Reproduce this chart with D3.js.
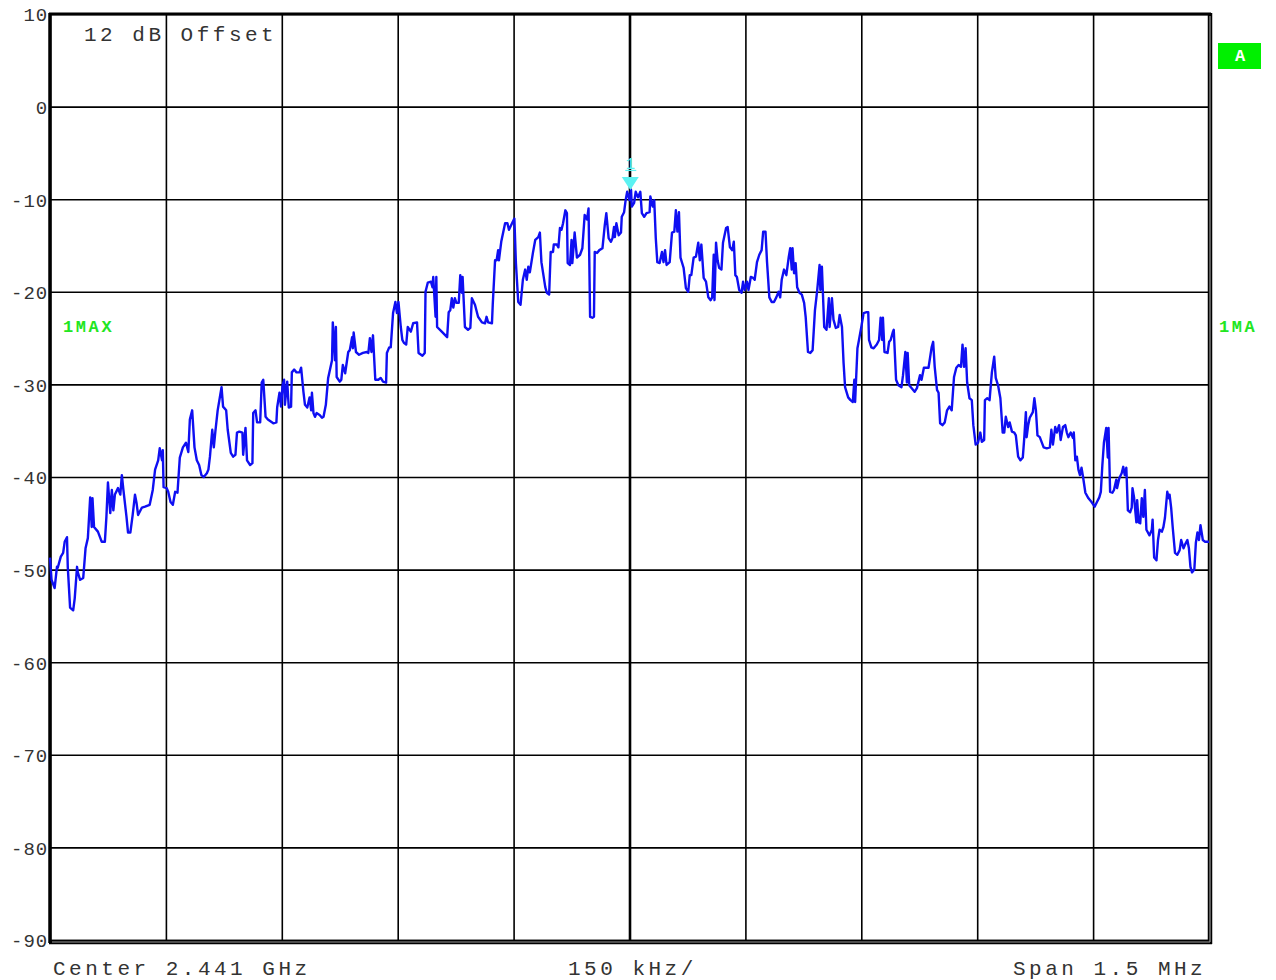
<!DOCTYPE html>
<html>
<head>
<meta charset="utf-8">
<title>Spectrum 2.441 GHz</title>
<script src="https://d3js.org/d3.v7.min.js"></script>
<style>
  body { margin: 0; background: #fff; }
  svg text { font-family: "Courier New", "Liberation Mono", monospace; }
</style>
</head>
<body>
<div id="chart"></div>
<script>
// frequency offset from center (kHz) and level (dB) of the max-hold trace
const freqKHz = [
  -750,-748,-744,-741,-740,-736,-733,-731,-728,-727,-724,-720,-718,-715,-714,-711,-707,-704,-701,-698,
  -696,-695,-693,-688,-683,-679,-677,-675,-672,-670,-668,-666,-662,-659,-657,-655,-651,-649,-646,-643,
  -640,-638,-636,-631,-627,-621,-617,-614,-610,-608,-605,-604,-603,-599,-597,-594,-591,-588,-585,-582,
  -578,-574,-571,-569,-566,-563,-560,-557,-554,-551,-547,-545,-543,-540,-538,-536,-533,-528,-526,-522,
  -520,-516,-513,-510,-508,-505,-501,-500,-497,-495,-491,-488,-487,-484,-482,-478,-476,-474,-471,-468,
  -461,-457,-456,-453,-451,-449,-447,-446,-443,-441,-438,-437,-434,-431,-427,-425,-422,-420,-417,-414,
  -412,-411,-409,-407,-405,-401,-398,-396,-393,-390,-385,-384,-381,-380,-379,-375,-373,-371,-368,-364,
  -362,-359,-358,-357,-354,-350,-345,-340,-338,-336,-334,-332,-329,-325,-322,-319,-315,-314,-311,-309,
  -306,-303,-301,-299,-296,-294,-292,-289,-287,-283,-280,-275,-273,-268,-265,-264,-261,-257,-255,-254,
  -251,-250,-249,-243,-236,-234,-232,-230,-228,-226,-224,-221,-219,-217,-216,-213,-209,-206,-204,-200,
  -196,-191,-187,-185,-183,-178,-177,-174,-172,-170,-169,-166,-161,-158,-156,-152,-149,-147,-144,-141,
  -138,-135,-133,-131,-129,-125,-122,-118,-116,-114,-109,-107,-104,-102,-99,-98,-94,-92,-90,-88,
  -86,-83,-81,-80,-77,-75,-74,-71,-68,-64,-61,-58,-55,-53,-51,-48,-46,-45,-42,-39,
  -35,-32,-30,-27,-24,-22,-20,-19,-17,-14,-11,-10,-7,-5,-3,0,2,3,6,8,
  11,14,16,19,22,26,27,30,32,34,36,39,42,44,46,48,52,55,58,60,
  62,64,66,70,73,76,78,80,83,86,89,91,93,96,99,102,105,107,109,110,
  112,114,116,119,121,125,127,130,133,135,137,139,142,145,147,149,152,154,157,160,
  162,165,168,171,173,176,178,181,184,187,190,193,195,197,200,203,206,208,210,211,
  213,215,217,220,223,226,228,231,234,237,240,243,246,247,249,252,255,258,259,262,
  264,267,270,272,275,277,279,283,286,289,291,292,295,297,300,303,307,309,310,313,
  316,320,323,325,327,328,330,334,336,338,341,342,345,348,352,354,357,359,360,362,
  365,369,372,376,378,381,387,391,393,395,398,400,402,405,408,411,414,417,420,423,
  426,429,431,433,435,437,440,443,445,448,451,454,456,459,460,463,466,469,472,474,
  477,480,483,485,487,490,492,495,498,500,503,506,509,511,513,514,516,518,522,524,
  526,528,531,536,540,544,546,548,551,553,556,558,561,564,566,568,571,574,575,577,
  579,581,583,585,587,590,594,598,602,605,608,610,612,614,617,619,620,622,625,627,
  630,631,634,637,639,641,643,645,648,650,651,653,656,657,659,661,663,665,667,669,
  673,676,677,679,682,684,686,689,691,693,696,698,699,701,703,706,709,712,714,717,
  719,722,724,726,728,731,733,735,737,739,742,745,750
];
const levelDb = [
  -48.7,-51.1,-52.0,-49.7,-49.8,-48.6,-48.2,-47.0,-46.5,-49.7,-54.1,-54.4,-53.1,-49.7,-50.3,-51.1,-50.9,-47.7,-46.6,-42.2,
  -45.4,-42.3,-45.4,-45.9,-47.0,-47.0,-44.3,-40.6,-43.9,-41.4,-43.6,-41.9,-41.2,-41.9,-39.8,-41.4,-44.3,-46.0,-46.0,-44.1,
  -41.9,-42.8,-44.1,-43.3,-43.2,-43.0,-41.4,-39.2,-38.2,-36.9,-38.2,-37.1,-41.1,-41.2,-41.6,-42.7,-43.0,-41.6,-41.7,-37.9,
  -36.8,-36.3,-37.3,-33.8,-32.8,-36.8,-38.2,-38.7,-39.8,-40.0,-39.6,-39.2,-37.8,-34.9,-36.8,-35.1,-32.8,-30.3,-32.4,-32.8,
  -34.9,-37.4,-37.8,-37.6,-35.2,-35.1,-35.2,-37.6,-34.7,-38.2,-38.7,-38.5,-33.1,-32.8,-34.1,-34.1,-29.8,-29.5,-33.5,-33.8,
  -34.2,-34.1,-32.5,-30.9,-32.4,-30.1,-29.5,-32.2,-29.7,-32.5,-32.4,-28.7,-28.4,-28.7,-28.7,-28.2,-30.8,-32.2,-32.5,-31.4,
  -32.8,-30.9,-33.1,-33.5,-33.1,-33.3,-33.6,-33.5,-32.2,-29.3,-27.4,-23.3,-27.4,-23.8,-29.2,-29.7,-29.5,-27.9,-28.8,-26.5,
  -26.3,-24.9,-26.1,-24.4,-26.5,-26.8,-26.6,-26.5,-26.6,-25.0,-26.5,-24.7,-29.5,-29.5,-29.3,-29.7,-29.8,-26.6,-26.0,-26.0,
  -22.3,-21.1,-22.3,-21.1,-23.8,-25.2,-25.5,-25.7,-23.8,-24.3,-23.4,-23.3,-26.6,-26.9,-26.6,-20.0,-19.0,-18.9,-19.5,-18.4,
  -22.7,-18.4,-23.8,-24.3,-24.9,-22.2,-22.0,-20.7,-21.7,-20.7,-21.2,-21.2,-18.2,-20.1,-18.4,-23.8,-24.1,-23.9,-20.7,-21.4,
  -22.7,-23.3,-23.4,-22.7,-23.3,-23.4,-21.4,-16.6,-16.6,-15.5,-16.6,-14.6,-12.6,-12.6,-13.3,-12.6,-12.1,-16.9,-21.1,-21.4,
  -18.7,-17.6,-18.7,-17.3,-17.9,-15.8,-14.4,-14.1,-13.6,-16.8,-19.5,-20.1,-20.3,-15.7,-15.7,-14.9,-14.9,-15.2,-13.1,-13.3,
  -12.6,-11.2,-11.5,-16.9,-17.1,-14.4,-16.9,-13.6,-16.3,-16.0,-15.3,-11.7,-12.2,-11.0,-22.7,-22.8,-22.7,-15.7,-15.8,-15.5,
  -15.3,-12.8,-11.5,-14.2,-14.6,-14.2,-13.0,-14.1,-12.6,-13.9,-13.6,-11.9,-11.4,-10.1,-9.2,-10.1,-9.0,-10.8,-10.4,-9.2,
  -9.8,-9.2,-11.5,-11.9,-11.5,-11.4,-9.7,-10.8,-10.1,-14.2,-16.8,-16.9,-15.7,-16.8,-15.5,-17.1,-16.8,-13.6,-13.5,-11.2,
  -13.5,-11.4,-16.3,-17.4,-19.6,-20.0,-18.2,-18.2,-16.3,-16.2,-14.7,-16.6,-14.9,-18.5,-18.9,-20.6,-20.9,-20.6,-16.0,-20.9,
  -14.7,-16.6,-17.4,-17.6,-14.7,-13.1,-13.0,-15.2,-15.5,-14.6,-18.2,-18.4,-19.8,-20.1,-18.9,-19.8,-18.9,-19.8,-18.4,-18.5,
  -18.7,-16.8,-16.0,-15.5,-13.5,-13.5,-16.8,-20.6,-21.1,-21.1,-20.6,-20.0,-20.6,-18.7,-17.6,-18.2,-16.3,-15.3,-17.6,-15.3,
  -18.0,-16.9,-19.5,-20.1,-20.3,-21.2,-22.7,-26.5,-26.6,-26.3,-22.0,-19.8,-17.1,-19.8,-17.3,-23.8,-24.1,-20.7,-23.8,-20.7,
  -23.0,-23.9,-23.8,-22.5,-23.8,-27.6,-30.3,-31.4,-31.7,-31.9,-29.5,-31.9,-26.1,-25.2,-23.8,-22.3,-22.2,-22.2,-25.2,-26.0,
  -26.1,-25.7,-25.2,-22.8,-25.2,-22.8,-26.5,-26.6,-25.4,-25.2,-24.3,-24.1,-29.5,-30.1,-30.3,-29.0,-26.5,-29.8,-26.6,-30.1,
  -30.4,-30.8,-30.4,-29.0,-29.5,-28.2,-28.2,-26.0,-25.4,-28.1,-30.6,-30.9,-34.2,-34.4,-34.1,-32.8,-32.4,-32.8,-29.2,-28.2,
  -27.9,-28.1,-25.7,-28.1,-26.1,-29.8,-31.5,-31.7,-34.4,-36.5,-36.3,-35.2,-36.2,-36.0,-31.7,-31.5,-31.7,-28.7,-27.0,-29.3,
  -30.1,-31.5,-35.2,-35.2,-33.5,-34.6,-34.1,-35.1,-35.2,-35.5,-37.8,-38.2,-37.9,-35.7,-33.0,-35.7,-34.4,-33.6,-33.0,-31.5,
  -32.8,-35.5,-35.7,-36.8,-36.9,-36.8,-34.9,-36.5,-34.6,-35.2,-34.4,-36.0,-34.6,-34.4,-35.2,-35.7,-35.2,-35.8,-35.2,-38.2,
  -37.8,-39.2,-39.8,-39.0,-40.0,-41.7,-42.3,-42.7,-43.2,-42.7,-42.2,-41.6,-38.7,-36.3,-34.7,-37.9,-34.7,-41.6,-41.7,-41.4,
  -40.3,-41.2,-40.1,-39.6,-38.9,-39.8,-39.0,-43.6,-43.8,-43.3,-41.2,-42.2,-44.9,-42.5,-44.9,-45.0,-42.3,-44.3,-41.4,-45.7,
  -46.3,-45.7,-44.6,-48.7,-49.0,-46.8,-45.7,-45.9,-45.4,-44.4,-41.6,-42.3,-41.9,-43.3,-45.4,-48.2,-48.4,-47.9,-46.8,-47.7,
  -47.3,-46.8,-47.7,-49.7,-50.3,-50.0,-47.1,-46.0,-46.8,-45.2,-46.8,-47.0,-47.0
];

const xGridKHz = [-750,-600,-450,-300,-150,0,150,300,450,600,750];
const yTicksDb = [10,0,-10,-20,-30,-40,-50,-60,-70,-80,-90];

const markerKHz = 1, markerDb = -9.0;

const infoTop = "12 dB Offset";
const infoBottom = ["Center 2.441 GHz", "150 kHz/", "Span 1.5 MHz"];

const W = 1276, H = 980;
const plotL = 50, plotR = 1209, plotT = 14, plotB = 940;

const svg = d3.select("#chart").append("svg")
    .attr("width", W).attr("height", H);

const x = d3.scaleLinear().domain([-750, 750]).range([plotL, plotR]);
const y = d3.scaleLinear().domain([-90, 10]).range([plotB, plotT]);

// horizontal grid + labels
const yAxis = svg.append("g")
    .attr("transform", `translate(${plotL},0)`)
    .call(d3.axisLeft(y).tickValues(yTicksDb).tickSize(-(plotR - plotL)).tickPadding(2)
        .tickFormat(d => String(d)));
yAxis.select(".domain").remove();
yAxis.selectAll("line").attr("stroke", "#000").attr("stroke-width", 1.6);
yAxis.selectAll("text")
    .attr("font-family", "'Courier New', 'Liberation Mono', monospace")
    .style("font-size", "19px").style("letter-spacing", "0.9px")
    .attr("fill", "#333").attr("dy", "0.36em");

// vertical grid
const xAxis = svg.append("g")
    .attr("transform", `translate(0,${plotB})`)
    .call(d3.axisBottom(x).tickValues(xGridKHz).tickSize(-(plotB - plotT)).tickFormat(""));
xAxis.select(".domain").remove();
xAxis.selectAll("line").attr("stroke", "#000")
    .attr("stroke-width", d => d === 0 ? 2.6 : 1.6);

// frame
svg.append("line").attr("x1", plotL).attr("x2", plotL).attr("y1", plotT - 1).attr("y2", plotB + 3)
    .attr("stroke", "#000").attr("stroke-width", 3.5);
svg.append("line").attr("x1", plotL - 1).attr("x2", plotR + 2).attr("y1", plotT).attr("y2", plotT)
    .attr("stroke", "#000").attr("stroke-width", 3);
svg.append("line").attr("x1", plotL - 1).attr("x2", plotR + 3).attr("y1", plotB + 2).attr("y2", plotB + 2)
    .attr("stroke", "#000").attr("stroke-width", 4.5);
svg.append("line").attr("x1", plotR + 1).attr("x2", plotR + 1).attr("y1", plotT - 1).attr("y2", plotB + 4)
    .attr("stroke", "#000").attr("stroke-width", 4.5);
svg.append("line").attr("x1", plotL + 2).attr("x2", plotR + 1).attr("y1", plotB + 2).attr("y2", plotB + 2)
    .attr("stroke", "#9a9a9a").attr("stroke-width", 1.2);
svg.append("line").attr("x1", plotR + 1).attr("x2", plotR + 1).attr("y1", plotT + 2).attr("y2", plotB + 2)
    .attr("stroke", "#9a9a9a").attr("stroke-width", 1.2);

// trace
const n = Math.min(freqKHz.length, levelDb.length);
const trace = d3.range(n).map(i => ({ f: freqKHz[i], v: levelDb[i] }));
svg.append("path")
    .datum(trace)
    .attr("fill", "none")
    .attr("stroke", "#0f0ff2")
    .attr("stroke-width", 2.4)
    .attr("stroke-linejoin", "round")
    .attr("d", d3.line().x(d => x(d.f)).y(d => y(d.v)));

// marker 1
const mx = x(markerKHz), my = y(markerDb);
svg.append("path")
    .attr("d", `M${mx - 8.5},${my - 13} L${mx + 8.5},${my - 13} L${mx},${my} Z`)
    .attr("fill", "#5cf2f2");
svg.append("text").attr("x", mx).attr("y", my - 21)
    .attr("text-anchor", "middle").attr("fill", "#5cf2f2")
    .style("font-size", "16px").text("1");
svg.append("line").attr("x1", mx - 5).attr("x2", mx + 6).attr("y1", my - 19.5).attr("y2", my - 19.5)
    .attr("stroke", "#5cf2f2").attr("stroke-width", 1.2);

// info texts
const infoStyle = sel => sel.attr("fill", "#333").style("font-size", "21px").style("letter-spacing", "3.5px");
svg.append("text").attr("x", 84).attr("y", 41).text(infoTop).call(infoStyle);
svg.append("text").attr("x", 53).attr("y", 975).text(infoBottom[0]).call(infoStyle);
svg.append("text").attr("x", 568).attr("y", 975).text(infoBottom[1]).call(infoStyle);
svg.append("text").attr("x", 1013).attr("y", 975).text(infoBottom[2]).call(infoStyle);

// trace labels
const green = "#22e622";
svg.append("text").attr("x", 63).attr("y", 332).text("1MAX")
    .attr("fill", green).attr("font-weight", "bold")
    .style("font-size", "17px").style("letter-spacing", "2.6px");
svg.append("text").attr("x", 1219).attr("y", 332).text("1MA")
    .attr("fill", green).attr("font-weight", "bold")
    .style("font-size", "17px").style("letter-spacing", "2.6px");

svg.append("rect").attr("x", 1218).attr("y", 43).attr("width", 43).attr("height", 26)
    .attr("fill", "#00f000");
svg.append("text").attr("x", 1240).attr("y", 61).attr("text-anchor", "middle")
    .text("A").attr("fill", "#fff").attr("font-weight", "bold").style("font-size", "17px");
</script>
</body>
</html>
